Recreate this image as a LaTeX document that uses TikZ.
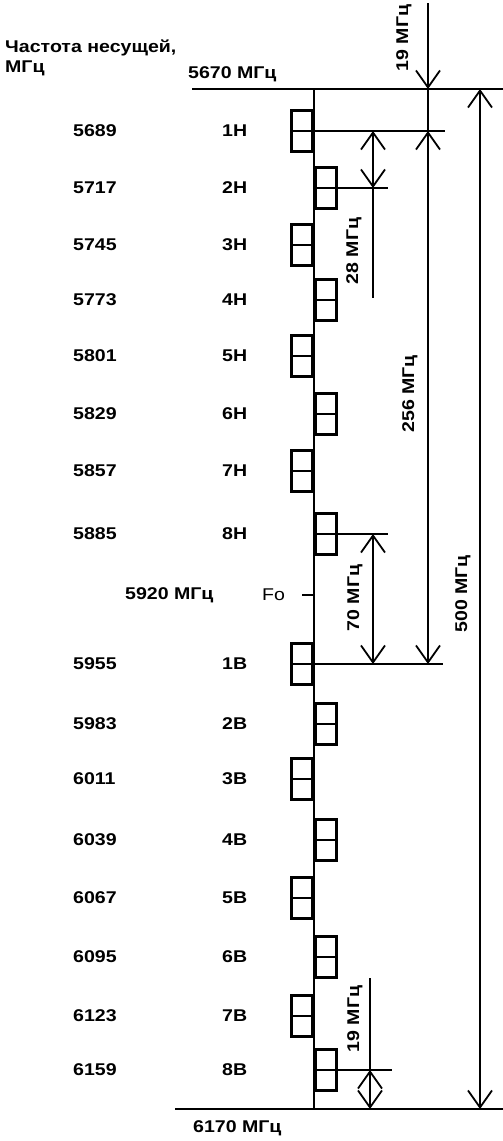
\documentclass[tikz,border=0pt]{standalone}
\usepackage{fontspec}
\setmainfont{Liberation Sans}[FakeStretch=1.15]
\usetikzlibrary{arrows.meta}

\begin{document}
\begin{tikzpicture}[x=1pt, y=-1pt,
  >={Straight Barb[length=17pt, width=24pt, line width=1.8pt]},
  txt/.style={font=\fontsize{17}{20}\selectfont\bfseries, inner sep=0pt},
  freq/.style={txt, anchor=west},
  dimlabel/.style={txt, rotate=90},
  chanbox/.style={draw, line width=2.6pt, minimum width=21pt, minimum height=41pt,
    inner sep=0pt, path picture={\draw[line width=2.6pt]
      (path picture bounding box.west) -- (path picture bounding box.east);}},
  lbox/.style={chanbox, anchor=east},
  rbox/.style={chanbox, anchor=west},
  axis/.style={line width=2.8pt},
  dim/.style={line width=1.9pt}
]
\useasboundingbox (0,0) rectangle (503,1141);

\node[freq] (head1) at (5,48) {Частота несущей,};
\node[freq] (head2) at (5,68) {МГц};
\node[freq] (fmin) at (188,74) {5670 МГц};
\node[freq] (fmax) at (193,1128) {6170 МГц};

\coordinate (lo) at (314,89);
\coordinate (hi) at (314,1109);
\coordinate (loL) at (192,89);
\coordinate (loR) at (503,89);
\coordinate (hiL) at (175,1109);
\coordinate (hiR) at (503,1109);
\draw[axis] (loL) -- (loR);
\draw[axis] (hiL) -- (hiR);
\draw[axis] (lo) -- (hi);

\node[freq] (f1H) at (73,131) {5689};
\node[freq] (n1H) at (222,131) {1Н};
\node[lbox] (b1H) at (314,131) {};
\node[freq] (f2H) at (73,188) {5717};
\node[freq] (n2H) at (222,188) {2Н};
\node[rbox] (b2H) at (314,188) {};
\node[freq] (f3H) at (73,245) {5745};
\node[freq] (n3H) at (222,245) {3Н};
\node[lbox] (b3H) at (314,245) {};
\node[freq] (f4H) at (73,300) {5773};
\node[freq] (n4H) at (222,300) {4Н};
\node[rbox] (b4H) at (314,300) {};
\node[freq] (f5H) at (73,356) {5801};
\node[freq] (n5H) at (222,356) {5Н};
\node[lbox] (b5H) at (314,356) {};
\node[freq] (f6H) at (73,414) {5829};
\node[freq] (n6H) at (222,414) {6Н};
\node[rbox] (b6H) at (314,414) {};
\node[freq] (f7H) at (73,471) {5857};
\node[freq] (n7H) at (222,471) {7Н};
\node[lbox] (b7H) at (314,471) {};
\node[freq] (f8H) at (73,534) {5885};
\node[freq] (n8H) at (222,534) {8Н};
\node[rbox] (b8H) at (314,534) {};

\node[freq] (f0) at (125,595) {5920 МГц};
\node[freq, font=\fontsize{17}{20}\selectfont] (F0) at (262,595) {Fo};
\coordinate (f0tick) at (302,595);
\draw[axis] (f0tick) -- (lo |- f0tick);

\node[freq] (f1B) at (73,664) {5955};
\node[freq] (n1B) at (222,664) {1В};
\node[lbox] (b1B) at (314,664) {};
\node[freq] (f2B) at (73,724) {5983};
\node[freq] (n2B) at (222,724) {2В};
\node[rbox] (b2B) at (314,724) {};
\node[freq] (f3B) at (73,779) {6011};
\node[freq] (n3B) at (222,779) {3В};
\node[lbox] (b3B) at (314,779) {};
\node[freq] (f4B) at (73,840) {6039};
\node[freq] (n4B) at (222,840) {4В};
\node[rbox] (b4B) at (314,840) {};
\node[freq] (f5B) at (73,898) {6067};
\node[freq] (n5B) at (222,898) {5В};
\node[lbox] (b5B) at (314,898) {};
\node[freq] (f6B) at (73,957) {6095};
\node[freq] (n6B) at (222,957) {6В};
\node[rbox] (b6B) at (314,957) {};
\node[freq] (f7B) at (73,1016) {6123};
\node[freq] (n7B) at (222,1016) {7В};
\node[lbox] (b7B) at (314,1016) {};
\node[freq] (f8B) at (73,1070) {6159};
\node[freq] (n8B) at (222,1070) {8В};
\node[rbox] (b8B) at (314,1070) {};

\coordinate (xa) at (428,0);
\coordinate (xb) at (373,0);
\coordinate (xc) at (480,0);
\coordinate (xd) at (370,0);

\draw[dim] (b1H.west) -- (445,131);
\draw[dim] (b2H.west) -- (388,188);
\draw[dim] (b8H.west) -- (388,534);
\draw[dim] (b1B.west) -- (443,664);
\draw[dim] (b8B.west) -- (392,1070);

\draw[dim,->] (428,3) -- (xa |- lo);
\draw[dim] (xa |- lo) -- (xa |- b1H);
\draw[dim,<->] (xa |- b1H) -- (xa |- b1B);
\draw[dim,<->] (xb |- b1H) -- (xb |- b2H);
\draw[dim] (xb |- b2H) -- (373,298);
\draw[dim,<->] (xb |- b8H) -- (xb |- b1B);
\draw[dim,<->] (xc |- lo) -- (xc |- hi);
\draw[dim] (370,978) -- (xd |- b8B);
\draw[dim,<->] (xd |- b8B) -- (xd |- hi);

\node[dimlabel] (d19a) at (404,38) {19 МГц};
\node[dimlabel] (d28) at (354,251) {28 МГц};
\node[dimlabel] (d256) at (410,394) {256 МГц};
\node[dimlabel] (d70) at (355,598) {70 МГц};
\node[dimlabel] (d500) at (463,594) {500 МГц};
\node[dimlabel] (d19b) at (355,1019) {19 МГц};
\end{tikzpicture}
\end{document}
